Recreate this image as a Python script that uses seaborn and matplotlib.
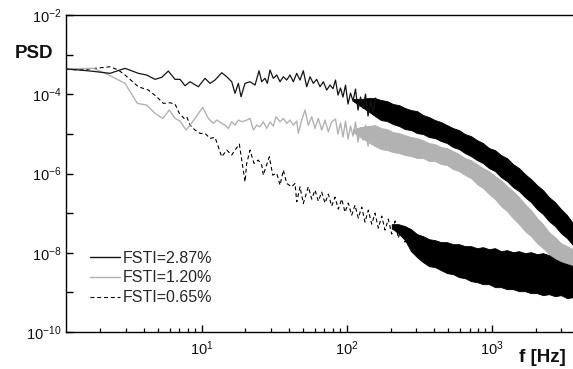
import numpy as np
import matplotlib
matplotlib.use("Agg")
import matplotlib.pyplot as plt
from matplotlib.ticker import FixedLocator, FuncFormatter, NullFormatter, NullLocator, LogLocator
from matplotlib.lines import Line2D
import seaborn as sns

# ---------------- data ----------------
labels = ["FSTI=2.87%", "FSTI=1.20%", "FSTI=0.65%"]

# resolved (low-frequency) parts: frequency [Hz], log10(PSD)
f_287 = [1.162, 1.451, 1.792, 2.336, 2.964, 3.660, 4.181, 4.769, 5.303, 5.888, 6.548, 7.089, 7.674,
         8.307, 9.475, 10.54, 11.41, 12.35, 13.73, 14.87, 16.09, 16.96, 17.87, 18.65, 19.87, 21.51,
         23.29, 24.81, 25.89, 27.29, 28.30, 29.54, 31.12, 32.85, 34.62, 36.48, 38.49, 40.56, 42.75,
         45.12, 47.53, 50.08, 52.85, 55.71, 58.70, 61.94, 65.27, 68.79, 72.60, 76.49, 80.2,
         83.46, 86.83, 90.33, 93.99, 97.81, 101.76, 105.88, 110.16, 114.61, 119.25, 124.09, 129.12,
         134.34, 139.78, 145.43, 151.33, 157.40]
lp_287 = [-3.364, -3.389, -3.422, -3.472, -3.346, -3.472, -3.515, -3.624, -3.573, -3.414, -3.624,
          -3.624, -3.785, -3.684, -3.811, -3.598, -3.725, -3.641, -3.457, -3.558, -3.684, -3.977,
          -3.725, -4.063, -3.725, -3.684, -3.768, -3.407, -3.684, -3.598, -3.725, -3.389, -3.598,
          -3.515, -3.684, -3.558, -3.641, -3.515, -3.684, -3.472, -3.641, -3.407, -3.811, -3.558,
          -3.725, -3.624, -3.811, -3.684, -3.894, -3.768, -3.86,
          -3.641, -4.020, -3.843, -4.071, -3.768, -4.247, -3.970, -4.172, -3.869, -4.399, -4.071,
          -4.348, -3.995, -4.551, -4.172, -4.449, -4.096]

f_120 = [1.162, 1.451, 1.792, 2.217, 2.964, 3.602, 4.181, 4.769, 5.387, 5.982, 6.548, 7.089, 7.797,
         8.307, 8.993, 10.16, 11.10, 12.02, 12.69, 13.73, 14.47, 15.25, 16.09, 16.96, 17.87, 18.86,
         20.41, 21.51, 22.67, 23.92, 25.20, 26.56, 28.04, 29.54, 31.12, 32.49, 34.62, 36.48, 38.49,
         40.56, 42.75, 45.12, 46.28, 48.83, 51.45, 54.22, 57.23, 60.30, 63.53, 67.05, 70.67, 74.46,
         78.58, 83.46, 86.83, 90.33, 93.99, 97.81, 101.76, 105.88, 110.16, 114.61, 119.25, 124.09,
         129.12, 134.34, 139.78, 145.43, 151.33, 157.40]
lp_120 = [-3.364, -3.351, -3.346, -3.490, -3.725, -4.230, -4.273, -4.482, -4.609, -4.399, -4.609,
          -4.677, -4.904, -4.778, -4.609, -4.331, -4.609, -4.735, -4.652, -4.735, -4.778, -4.861,
          -4.694, -4.778, -4.652, -4.694, -4.652, -4.609, -4.904, -4.778, -4.821, -4.694, -4.861,
          -4.702, -4.803, -4.568, -4.694, -4.609, -4.735, -4.652, -4.778, -4.677, -4.987, -4.652,
          -4.399, -4.778, -4.568, -4.861, -4.609, -4.904, -4.652, -4.947, -4.694,
          -4.626, -5.005, -4.727, -5.081, -4.677, -5.131, -4.803, -5.056, -4.702, -5.207, -4.854,
          -5.157, -4.778, -5.308, -4.904, -5.232, -4.828]

f_065 = [1.162, 1.451, 1.792, 2.336, 2.665, 2.964, 3.660, 4.288, 4.899, 5.439, 6.048, 6.548, 7.011,
         7.553, 7.883, 8.307, 8.993, 9.734, 10.54, 11.41, 12.35, 13.01, 13.73, 14.87, 16.09, 16.96,
         18.16, 18.86, 19.87, 20.41, 21.51, 22.92, 24.54, 25.89, 26.56, 29.21, 30.83, 32.85, 34.62,
         36.48, 38.49, 41.67, 43.92, 45.12, 47.53, 50.08, 54.22, 57.23, 60.30, 63.53, 67.05, 70.67,
         74.46, 78.58, 82.80, 87.25, 92.1, 97.0, 102.2, 107.9, 113.7, 119.8, 126.5, 133.3, 140.4,
         148.2, 156.1, 164.6, 173.7, 183.0, 192.8, 203.5, 214.5, 225.9, 238.5, 251.2, 264.8, 279.4,
         294.4]
lp_065 = [-3.364, -3.389, -3.351, -3.306, -3.389, -3.515, -3.811, -3.894, -4.063, -4.230, -4.215,
          -4.247, -4.482, -4.609, -4.568, -4.778, -4.904, -4.987, -4.987, -5.114, -5.088, -5.326,
          -5.578, -5.409, -5.535, -5.409, -5.258, -5.662, -6.210, -5.745, -5.409, -5.745, -5.662,
          -5.788, -6.040, -5.578, -6.040, -5.997, -6.293, -5.914, -6.250, -6.336, -6.250, -6.715,
          -6.336, -6.755, -6.336, -6.646, -6.419, -6.697, -6.470, -6.747, -6.520, -6.823, -6.596,
          -6.899, -6.646, -6.975, -6.747, -7.051, -6.798, -7.126, -6.848, -7.227, -6.924, -7.278,
          -7.000, -7.379, -7.076, -7.429, -7.152, -7.530, -7.202, -7.631, -7.328, -7.732, -7.404,
          -7.934, -7.581]

# dense high-frequency parts: upper / lower edge of the noise band, log10(PSD)
f_band = [110.16, 124.09, 139.78,
          156.1, 171.7, 188.9, 207.8, 228.5, 251.2, 276.3, 304.0, 334.3, 367.7, 404.4, 444.8,
          489.2, 538.0, 591.6, 650.6, 715.7, 787.1, 865.6, 952.1, 1047.1, 1151.6, 1266.4, 1393.0,
          1532.0, 1684.7, 1853.0, 2038.5, 2241.6, 2465.3, 2711.4, 2982.0, 3279.6, 3606.5]
top_287 = [-4.121, -4.121, -4.096,
           -4.096, -4.146, -4.172, -4.247, -4.273, -4.348, -4.399, -4.424, -4.525, -4.576, -4.652,
           -4.702, -4.778, -4.854, -4.904, -5.005, -5.056, -5.157, -5.232, -5.359, -5.409, -5.535,
           -5.611, -5.763, -5.864, -6.015, -6.141, -6.293, -6.419, -6.596, -6.722, -6.899, -7.051,
           -7.253]
bot_287 = [-4.172, -4.298, -4.424,
           -4.551, -4.652, -4.677, -4.753, -4.803, -4.879, -4.904, -4.980, -5.005, -5.081, -5.106,
           -5.182, -5.232, -5.333, -5.384, -5.485, -5.561, -5.662, -5.737, -5.864, -5.939, -6.091,
           -6.192, -6.343, -6.444, -6.596, -6.722, -6.899, -7.025, -7.202, -7.328, -7.505, -7.631,
           -7.808]
top_120 = [-4.879, -4.828, -4.803,
           -4.778, -4.854, -4.879, -4.955, -4.980, -5.030, -5.081, -5.106, -5.157, -5.232, -5.258,
           -5.333, -5.359, -5.434, -5.510, -5.611, -5.662, -5.763, -5.864, -5.939, -6.066, -6.167,
           -6.318, -6.444, -6.596, -6.773, -6.924, -7.126, -7.278, -7.480, -7.606, -7.758, -7.833,
           -7.909]
bot_120 = [-4.955, -5.081, -5.207,
           -5.308, -5.384, -5.409, -5.460, -5.485, -5.535, -5.561, -5.611, -5.611, -5.687, -5.687,
           -5.763, -5.788, -5.889, -5.939, -6.040, -6.116, -6.268, -6.369, -6.520, -6.646, -6.823,
           -6.949, -7.126, -7.278, -7.455, -7.581, -7.758, -7.884, -8.035, -8.136, -8.212, -8.263,
           -8.313]
f_band_065 = [203.5, 225.9, 251.2,
              276.3, 304.0, 334.3, 367.7, 404.4, 444.8, 489.2, 538.0, 591.6, 650.6, 715.7, 787.1,
              865.6, 952.1, 1047.1, 1151.6, 1266.4, 1393.0, 1532.0, 1684.7, 1853.0, 2038.5, 2241.6,
              2465.3, 2711.4, 2982.0, 3279.6, 3606.5]
top_065 = [-7.278, -7.278, -7.328,
           -7.404, -7.530, -7.581, -7.657, -7.682, -7.732, -7.732, -7.783, -7.783, -7.833, -7.833,
           -7.884, -7.859, -7.909, -7.884, -7.960, -7.934, -7.985, -7.960, -8.010, -7.985, -8.035,
           -8.010, -8.061, -8.010, -8.061, -8.035, -8.061]
bot_065 = [-7.379, -7.505, -7.682,
           -7.960, -8.111, -8.237, -8.338, -8.364, -8.439, -8.515, -8.540, -8.616, -8.641, -8.717,
           -8.742, -8.793, -8.793, -8.869, -8.869, -8.919, -8.919, -8.970, -8.970, -9.020, -9.020,
           -9.071, -9.045, -9.096, -9.071, -9.146, -9.121]

# ---------------- styling ----------------
sns.set_theme(style="white")
plt.rcParams["font.family"] = ["Liberation Sans", "DejaVu Sans"]
plt.rcParams["mathtext.fontset"] = "custom"
plt.rcParams["mathtext.rm"] = "Liberation Sans"
plt.rcParams["mathtext.it"] = "Liberation Sans:italic"
plt.rcParams["mathtext.bf"] = "Liberation Sans:bold"

BLACK = "#141414"
GRAY = "#b2b2b2"
DASH = (0, (3.5, 2.6))

fig = plt.figure(figsize=(5.73, 3.69), dpi=100)
ax = fig.add_axes([66 / 573, 1 - 332 / 369, 507 / 573, 317 / 369])
ax.set_xscale("log")
ax.set_yscale("log")

P = lambda a: 10.0 ** np.asarray(a)

# noise bands (dense high-frequency spectra)
ax.fill_between(f_band_065, P(top_065), P(bot_065), color="black", lw=0.6, zorder=1)
ax.fill_between(f_band, P(top_120), P(bot_120), color=GRAY, lw=0.6, zorder=2)
ax.fill_between(f_band, P(top_287), P(bot_287), color="black", lw=0.6, zorder=3)

# resolved lines
sns.lineplot(x=f_065, y=P(lp_065), ax=ax, color="black", lw=0.8, linestyle=DASH,
             estimator=None, sort=False, zorder=1.5, legend=False)
sns.lineplot(x=f_120, y=P(lp_120), ax=ax, color=GRAY, lw=1.0,
             estimator=None, sort=False, zorder=2.5, legend=False)
sns.lineplot(x=f_287, y=P(lp_287), ax=ax, color=BLACK, lw=0.9,
             estimator=None, sort=False, zorder=3.5, legend=False)

ax.set_xlim(1.162, 3607)
ax.set_ylim(1e-10, 1e-2)

# ticks
ax.yaxis.set_major_locator(FixedLocator([10.0 ** k for k in range(-10, -1)]))
ax.yaxis.set_minor_locator(NullLocator())


def yfmt(v, pos):
    e = int(round(np.log10(v)))
    return r"$10^{%d}$" % e if e % 2 == 0 else ""


ax.yaxis.set_major_formatter(FuncFormatter(yfmt))
ax.xaxis.set_major_locator(FixedLocator([10, 100, 1000]))
ax.xaxis.set_major_formatter(FuncFormatter(lambda v, p: r"$10^{%d}$" % int(round(np.log10(v)))))
ax.xaxis.set_minor_locator(LogLocator(base=10, subs=np.arange(2, 10), numticks=20))
ax.xaxis.set_minor_formatter(NullFormatter())

ax.tick_params(which="both", direction="in", left=True, bottom=True, top=False, right=False,
               colors="black", labelcolor="#111111")
ax.tick_params(which="major", length=5, width=1.0, labelsize=10.5)
ax.tick_params(which="minor", length=3, width=0.9)
ax.tick_params(axis="y", pad=3)
ax.tick_params(axis="x", pad=5.5)

for s in ["left", "bottom", "top"]:
    ax.spines[s].set_color("black")
    ax.spines[s].set_linewidth(1.0)
ax.spines["right"].set_visible(False)

fig.text(34 / 573, 1 - 54 / 369, "PSD", ha="center", va="center", fontsize=13.5,
         fontweight="bold", color="#111111")
fig.text(542 / 573, 1 - 357 / 369, "f [Hz]", ha="center", va="center", fontsize=13.5,
         fontweight="bold", color="#111111")

handles = [Line2D([], [], color=BLACK, lw=1.0),
           Line2D([], [], color=GRAY, lw=1.0),
           Line2D([], [], color="black", lw=0.8, linestyle=DASH)]
ax.legend(handles, labels, loc="center left",
          bbox_to_anchor=((90 - 66) / 507, (332 - 278) / 317),
          frameon=False, fontsize=11.5, handlelength=1.9, handletextpad=0.15,
          borderpad=0, borderaxespad=0, labelspacing=0.3)

fig.savefig("out.png", dpi=100, facecolor="white")
